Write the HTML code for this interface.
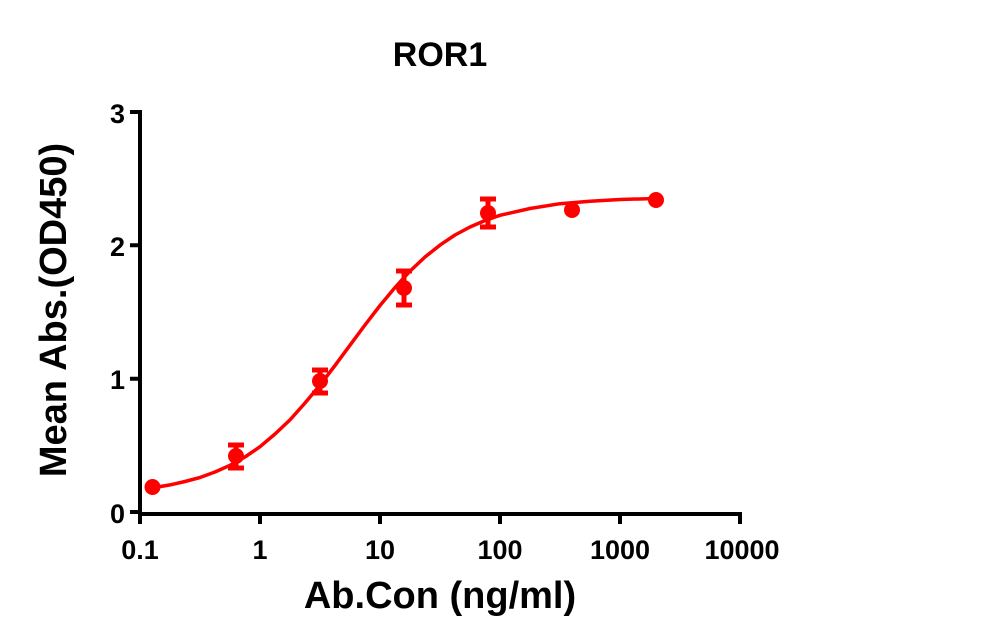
<!DOCTYPE html>
<html><head><meta charset="utf-8"><style>
html,body{margin:0;padding:0;background:#fff;}
svg{display:block;font-family:"Liberation Sans",Arial,sans-serif;font-weight:bold;}
</style></head><body>
<svg width="1004" height="642" viewBox="0 0 1004 642" xmlns="http://www.w3.org/2000/svg">
<rect width="1004" height="642" fill="#fff"/>
<text x="440" y="66" font-size="34" text-anchor="middle">ROR1</text>
<g stroke="#000" stroke-width="4" fill="none">
<path d="M140 110 V514 H742"/>
<path d="M130 112 H140 M130 245.3 H140 M130 378.7 H140 M130 512 H140"/>
<path d="M140 512 V524 M260 512 V524 M380 512 V524 M500 512 V524 M620 512 V524 M740 512 V524"/>
</g>
<g font-size="27" text-anchor="end">
<text x="125" y="123">3</text>
<text x="125" y="256">2</text>
<text x="125" y="389">1</text>
<text x="125" y="523">0</text>
</g>
<g font-size="27" text-anchor="middle">
<text x="140" y="559">0.1</text>
<text x="260" y="559">1</text>
<text x="380" y="559">10</text>
<text x="500" y="559">100</text>
<text x="620" y="559">1000</text>
<text x="742" y="559">10000</text>
</g>
<text x="440" y="608" font-size="38" text-anchor="middle">Ab.Con (ng/ml)</text>
<text transform="translate(66,310) rotate(-90)" font-size="38" text-anchor="middle">Mean Abs.(OD450)</text>
<polyline fill="none" stroke="#f00" stroke-width="3.5" stroke-linejoin="round" points="152.8,487.9 170,484.9 185,481.5 200,477.5 215,472 230,465.3 245,457 260,446.7 275,434 290,419.9 305,403 320,385.1 335,365.5 350,345.2 365,325 380,305.5 395,287.5 410,271.1 425,257 440,245.1 455,235 470,227 485,220.5 500,215.3 530,208.5 560,203.7 590,201.2 620,199.5 656,198.5"/>
<g stroke="#f00" stroke-width="5" fill="none">
<path d="M236 445 V468 M228 445 H244 M228 468 H244"/>
<path d="M320 370 V393 M312 370 H328 M312 393 H328"/>
<path d="M404 271 V305 M396 271 H412 M396 305 H412"/>
<path d="M488 199 V227 M480 199 H496 M480 227 H496"/>
</g>
<g fill="#f00">
<circle cx="152.5" cy="487" r="8"/>
<circle cx="236" cy="456" r="8"/>
<circle cx="320" cy="381" r="8"/>
<circle cx="404" cy="288" r="8"/>
<circle cx="488" cy="213" r="8"/>
<circle cx="572" cy="210" r="8"/>
<circle cx="656" cy="200" r="8"/>
</g>
</svg>
</body></html>
